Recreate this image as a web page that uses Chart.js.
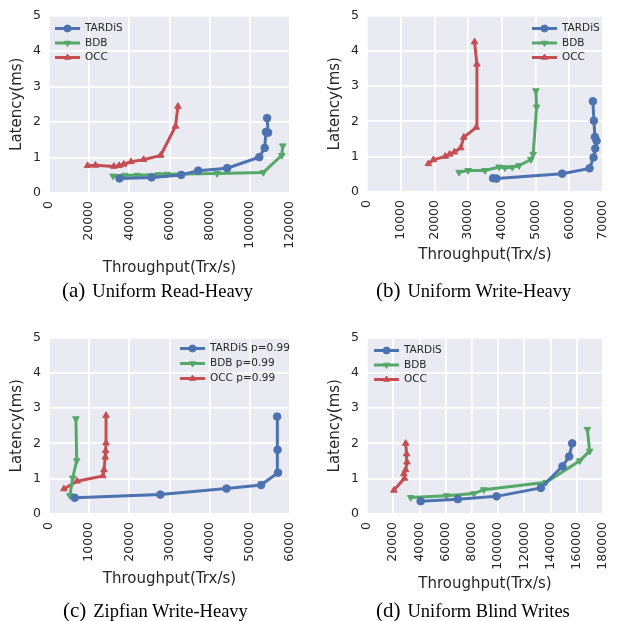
<!DOCTYPE html>
<html>
<head>
<meta charset="utf-8">
<script src="https://cdn.jsdelivr.net/npm/chart.js@4.4.0/dist/chart.umd.min.js"></script>
<style>
  body { margin: 0; background: #fff; width: 626px; height: 621px; position: relative; overflow: hidden; }
  canvas { position: absolute; }
  .cap { position: absolute; font-family: "Liberation Serif", "Times New Roman", serif; font-size: 18.5px; line-height: 24px; color: #000; white-space: nowrap; }
  .cap span { font-size: 21px; margin-right: 7px; }
</style>
</head>
<body>
<canvas id="chartA" width="313" height="280" style="left:0;top:0"></canvas>
<canvas id="chartB" width="313" height="280" style="left:313px;top:0"></canvas>
<canvas id="chartC" width="313" height="280" style="left:0;top:322px"></canvas>
<canvas id="chartD" width="313" height="280" style="left:313px;top:322px"></canvas>
<div class="cap" style="left:62px;top:278px"><span>(a)</span>Uniform Read-Heavy</div>
<div class="cap" style="left:376px;top:278px"><span>(b)</span>Uniform Write-Heavy</div>
<div class="cap" style="left:63px;top:598px"><span>(c)</span>Zipfian Write-Heavy</div>
<div class="cap" style="left:376px;top:598px"><span>(d)</span>Uniform Blind Writes</div>
<script>
// [throughput, latency] pairs
const readHeavyTardis = [[35100,0.41],[51100,0.44],[65800,0.51],[74300,0.63],[88700,0.70],[104700,1.01],[107400,1.27],[108000,1.72],[109100,1.70],[108600,2.11]];
const readHeavyBdb = [[31900,0.48],[37700,0.50],[43900,0.50],[54600,0.52],[58700,0.53],[83700,0.55],[106700,0.58],[115900,1.06],[116400,1.33]];
const readHeavyOcc = [[19200,0.77],[23100,0.78],[32300,0.75],[34900,0.77],[37200,0.81],[40800,0.88],[47100,0.94],[55600,1.06],[63000,1.88],[64200,2.44]];

const writeHeavyTardis = [[37400,0.39],[38400,0.38],[57900,0.52],[66000,0.67],[67200,0.98],[67700,1.23],[68100,1.45],[67600,1.56],[67300,2.02],[67000,2.57]];
const writeHeavyBdb = [[27300,0.56],[30000,0.61],[35000,0.61],[39200,0.71],[40900,0.69],[43100,0.70],[45100,0.75],[48600,0.92],[49300,1.07],[50300,2.41],[50100,2.87]];
const writeHeavyOcc = [[18200,0.80],[19700,0.91],[23200,1.01],[24500,1.07],[25900,1.13],[27800,1.25],[28700,1.55],[32400,1.83],[32600,3.62],[31900,4.25]];

const zipfTardis = [[6400,0.46],[27700,0.55],[44200,0.72],[52800,0.82],[57000,1.17],[56900,1.82],[56800,2.76]];
const zipfBdb = [[5200,0.52],[5900,1.02],[6900,1.51],[6700,2.70]];
const zipfOcc = [[3700,0.71],[7000,0.93],[13400,1.08],[13700,1.25],[14000,1.61],[14100,1.79],[14200,2.01],[14200,2.79]];

const blindTardis = [[40900,0.36],[69300,0.42],[98800,0.50],[132600,0.74],[149100,1.35],[154200,1.63],[156500,2.00]];
const blindBdb = [[33300,0.47],[60700,0.52],[81600,0.58],[89100,0.69],[136700,0.90],[162300,1.51],[169800,1.78],[168100,2.40]];
const blindOcc = [[20500,0.67],[28600,1.01],[28100,1.14],[29500,1.25],[30500,1.47],[30200,1.70],[29500,2.00]];

const seriesNames = ['TARDiS', 'BDB', 'OCC'];
const zipfNames = ['TARDiS p=0.99', 'BDB p=0.99', 'OCC p=0.99'];
const xMaxes = [120000, 70000, 60000, 180000];
const xSteps = [20000, 10000, 10000, 20000];
const yMax = 5;
const yStep = 1;
const xTitle = 'Throughput(Trx/s)';
const yTitle = 'Latency(ms)';

const colors = ['#4C72B0', '#55A868', '#C44E52'];
const markers = [['circle', 0], ['triangle', 180], ['triangle', 0]];
const textColor = '#262626';

const plotBackground = {
  id: 'plotBackground',
  beforeDraw(chart) {
    const { ctx, chartArea: a } = chart;
    ctx.save();
    ctx.fillStyle = '#EAEAF2';
    ctx.fillRect(a.left, a.top, a.width, a.height);
    ctx.restore();
  }
};

// legend drawn inside the plot, line + marker like matplotlib
const insideLegend = {
  id: 'insideLegend',
  afterDraw(chart, args, opts) {
    const { ctx, chartArea: a } = chart;
    const x0 = opts.side === 'right' ? a.right + opts.dx : a.left + opts.dx;
    ctx.save();
    ctx.font = '10.5px "DejaVu Sans"';
    ctx.textBaseline = 'middle';
    chart.data.datasets.forEach((ds, i) => {
      const y = a.top + opts.dy + i * opts.gap;
      ctx.strokeStyle = ds.borderColor;
      ctx.lineWidth = 3;
      ctx.beginPath();
      ctx.moveTo(x0, y);
      ctx.lineTo(x0 + 25, y);
      ctx.stroke();
      ctx.fillStyle = ds.borderColor;
      ctx.lineWidth = 1;
      Chart.helpers.drawPoint(ctx, { pointStyle: ds.pointStyle, rotation: ds.rotation, radius: 3.5, borderWidth: 1 }, x0 + 12.5, y);
      ctx.fillStyle = textColor;
      ctx.fillText(ds.label, x0 + 30, y);
    });
    ctx.restore();
  }
};

function makePanel(id, series, names, xMax, xStep, g) {
  const datasets = series.map((pts, i) => ({
    label: names[i],
    data: pts.map(p => ({ x: p[0], y: p[1] })),
    borderColor: colors[i],
    backgroundColor: colors[i],
    borderWidth: 3,
    pointStyle: markers[i][0],
    rotation: markers[i][1],
    pointRadius: 3.8,
    pointBorderWidth: 1,
    tension: 0
  }));
  return new Chart(document.getElementById(id), {
    type: 'line',
    data: { datasets },
    options: {
      responsive: false,
      animation: false,
      layout: { autoPadding: false, padding: { top: 14, right: g.padRight, left: 0, bottom: 0 } },
      plugins: {
        legend: { display: false },
        tooltip: { enabled: false },
        insideLegend: g.legend
      },
      scales: {
        x: {
          type: 'linear',
          min: 0,
          max: xMax,
          afterFit: s => { s.height = g.xHeight; },
          grid: { color: '#fff', lineWidth: 1.8, drawTicks: false },
          border: { display: false },
          ticks: {
            stepSize: xStep,
            minRotation: 90,
            maxRotation: 90,
            padding: 8,
            color: textColor,
            font: { family: 'DejaVu Sans', size: 12.5 },
            callback: v => String(v)
          },
          title: {
            display: true,
            text: xTitle,
            color: textColor,
            font: { family: 'DejaVu Sans', size: 15 },
            padding: { top: 0, bottom: g.xTitlePad }
          }
        },
        y: {
          type: 'linear',
          min: 0,
          max: yMax,
          afterFit: s => { s.width = g.yWidth; },
          grid: { color: '#fff', lineWidth: 1.8, drawTicks: false },
          border: { display: false },
          ticks: {
            stepSize: yStep,
            padding: 8,
            color: textColor,
            font: { family: 'DejaVu Sans', size: 12.5 }
          },
          title: {
            display: true,
            text: yTitle,
            color: textColor,
            font: { family: 'DejaVu Sans', size: 15 },
            padding: { top: g.yTitlePad, bottom: 0 }
          }
        }
      }
    },
    plugins: [plotBackground, insideLegend]
  });
}

makePanel('chartA', [readHeavyTardis, readHeavyBdb, readHeavyOcc], seriesNames, xMaxes[0], xSteps[0],
  { yWidth: 49, yTitlePad: 8, xHeight: 87, xTitlePad: 3, padRight: 7, legend: { side: 'left', dx: 6, dy: 13, gap: 14.5 } });
makePanel('chartB', [writeHeavyTardis, writeHeavyBdb, writeHeavyOcc], seriesNames, xMaxes[1], xSteps[1],
  { yWidth: 54, yTitlePad: 13, xHeight: 88, xTitlePad: 16, padRight: 1, legend: { side: 'right', dx: -71, dy: 13, gap: 14.5 } });
makePanel('chartC', [zipfTardis, zipfBdb, zipfOcc], zipfNames, xMaxes[2], xSteps[2],
  { yWidth: 49, yTitlePad: 8, xHeight: 88, xTitlePad: 14, padRight: 7, legend: { side: 'right', dx: -110, dy: 11, gap: 15 } });
makePanel('chartD', [blindTardis, blindBdb, blindOcc], seriesNames, xMaxes[3], xSteps[3],
  { yWidth: 54, yTitlePad: 13, xHeight: 88, xTitlePad: 9, padRight: 1, legend: { side: 'left', dx: 7, dy: 13, gap: 14.5 } });
</script>
</body>
</html>
